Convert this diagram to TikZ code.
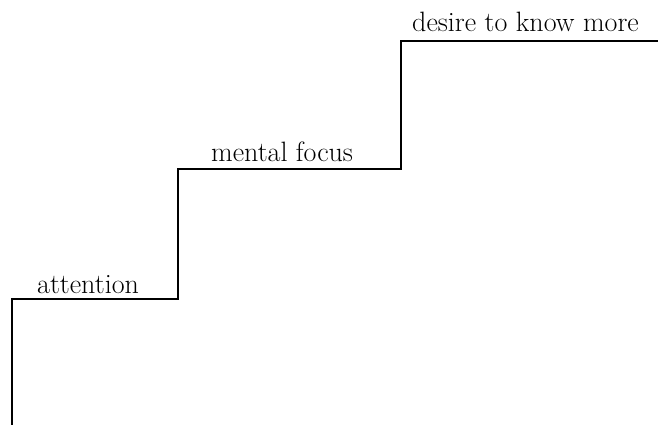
\documentclass[tikz,border=0pt]{standalone}
\begin{document}
\begin{tikzpicture}[x=1pt,y=-1pt,
  stair/.style={line width=2.6pt,line cap=butt,line join=miter},
  lbl/.style={anchor=base west,inner sep=0pt,font=\fontsize{28}{32}\selectfont}]
\useasboundingbox (0,0) rectangle (658,425);
\coordinate (s0) at (12,425);
\coordinate (s1) at (12,299);
\coordinate (s2) at (178,299);
\coordinate (s3) at (178,169);
\coordinate (s4) at (401,169);
\coordinate (s5) at (401,41);
\coordinate (s6) at (658,41);
\draw[stair] (s0) -- (s1) -- (s2) -- (s3) -- (s4) -- (s5) -- (s6);
\node[lbl] (att) at (37,293) {attention};
\node[lbl] (foc) at (211,161) {mental focus};
\node[lbl] (des) at (412,32) {desire to know more};
\end{tikzpicture}
\end{document}
